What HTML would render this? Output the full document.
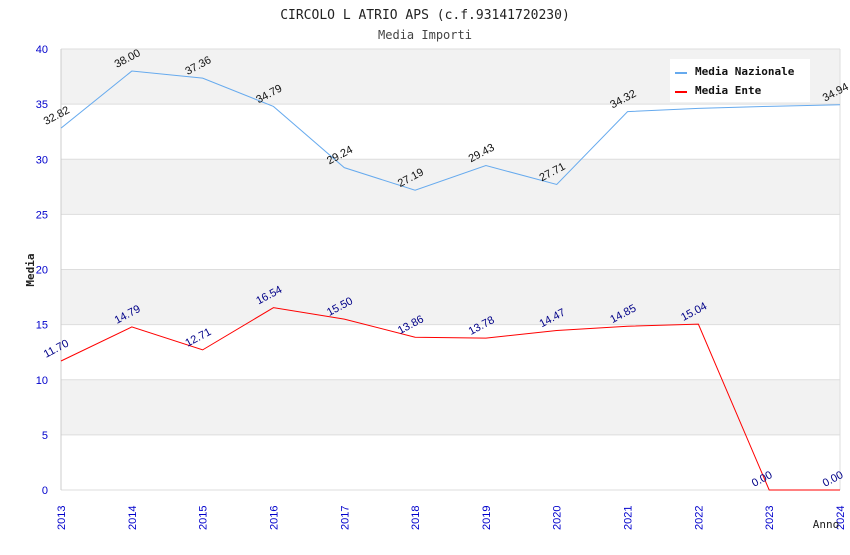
<!DOCTYPE html>
<html><head><meta charset="utf-8"><style>
body{margin:0;background:#fff;}
svg text{font-family:"Liberation Sans",sans-serif;}
.mono{font-family:"DejaVu Sans Mono","Liberation Mono",monospace;}
</style></head><body>
<svg id="chart" width="850" height="550">
<text class="mono" x="425" y="19" text-anchor="middle" font-size="13" fill="#222">CIRCOLO L ATRIO APS (c.f.93141720230)</text>
<text class="mono" x="425" y="39" text-anchor="middle" font-size="12" fill="#444">Media Importi</text>
<g id="bands"></g><g id="axes"></g><g id="series"></g>
<text class="mono" transform="translate(34,270) rotate(-90)" text-anchor="middle" font-size="11" font-weight="bold" fill="#222">Media</text>
<text class="mono" x="826" y="528" text-anchor="middle" font-size="11" fill="#222">Anno</text>
<g>
<rect x="670" y="59" width="140" height="43" fill="#fff"/>
<line x1="675" y1="73" x2="687" y2="73" stroke="#66aaee" stroke-width="2"/>
<text class="mono" x="695" y="75" font-size="11" font-weight="bold" fill="#111">Media Nazionale</text>
<line x1="675" y1="92" x2="687" y2="92" stroke="#ff0000" stroke-width="2"/>
<text class="mono" x="695" y="94" font-size="11" font-weight="bold" fill="#111">Media Ente</text>
</g>
</svg>
<script>
const years=[2013,2014,2015,2016,2017,2018,2019,2020,2021,2022,2023,2024];
const nazionale=[32.82,38.00,37.36,34.79,29.24,27.19,29.43,27.71,34.32,34.62,34.80,34.94];
const nazLabels=["32.82","38.00","37.36","34.79","29.24","27.19","29.43","27.71","34.32","","","34.94"];
const ente=[11.70,14.79,12.71,16.54,15.50,13.86,13.78,14.47,14.85,15.04,0.00,0.00];
const enteLabels=["11.70","14.79","12.71","16.54","15.50","13.86","13.78","14.47","14.85","15.04","0.00","0.00"];
const yTicks=[0,5,10,15,20,25,30,35,40];
const NS="http://www.w3.org/2000/svg";
const X0=61,X1=840,Y0=490,Y1=49;
const x=i=>X0+(X1-X0)*i/(years.length-1);
const y=v=>Y0-(Y0-Y1)*v/40;
function mk(t,a,p){const e=document.createElementNS(NS,t);for(const k in a)e.setAttribute(k,a[k]);p.appendChild(e);return e;}
const bands=document.getElementById('bands'),axes=document.getElementById('axes'),ser=document.getElementById('series');
for(let i=0;i<yTicks.length-1;i++){
 const r=mk('rect',{x:X0,y:y(yTicks[i+1]),width:X1-X0,height:y(yTicks[i])-y(yTicks[i+1]),fill:(i%2==1)?'#f2f2f2':'#fff'},bands);
 
 
}
yTicks.forEach(v=>{
 const l=mk('line',{x1:X0,x2:X1,y1:y(v),y2:y(v),stroke:'#ddd'},axes);
 
 
 const t=mk('text',{x:48,y:y(v)+4,'text-anchor':'end','font-size':11,fill:'#0000cc'},axes);
 t.textContent=v;
 
 
});
mk('line',{x1:X0,x2:X0,y1:Y1,y2:Y0,stroke:'#ccc'},axes);
mk('line',{x1:X1,x2:X1,y1:Y1,y2:Y0,stroke:'#ddd'},axes);
years.forEach((yr,i)=>{
 const t=mk('text',{transform:`translate(${x(i)+4},530) rotate(-90)`,'font-size':11,fill:'#0000cc'},axes);
 t.textContent=yr;
 
 
});
function series(vals,labels,color,lcolor,name){
 const p=mk('polyline',{points:vals.map((v,i)=>x(i)+','+y(v)).join(' '),fill:'none',stroke:color,'stroke-width':1},ser);
 
 
 vals.forEach((v,i)=>{
  if(!labels[i])return;
  const t=mk('text',{transform:`translate(${x(i)-15},${y(v)-3}) rotate(-28)`,'font-size':11,fill:lcolor},ser);
  t.textContent=labels[i];
  
  
 });
}
series(nazionale,nazLabels,'#66aaee','#111','nazionale');
series(ente,enteLabels,'#ff0000','#000088','ente');
</script>
</body></html>
